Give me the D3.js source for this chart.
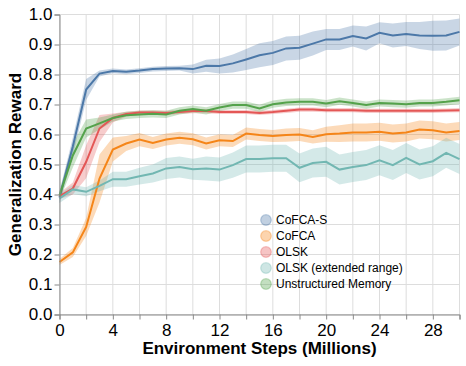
<!DOCTYPE html>
<html>
<head>
<meta charset="utf-8">
<script src="https://cdn.jsdelivr.net/npm/d3@7"></script>
<style>
  body { margin: 0; background: #fff; }
  text { font-family: "Liberation Sans", Arial, Helvetica, sans-serif; }
</style>
</head>
<body>
<script>
var width = 466, height = 366;
var margin = {left: 59.5, top: 14.5};
var plotW = 400, plotH = 300;

// data
var steps = [0,1,2,3,4,5,6,7,8,9,10,11,12,13,14,15,16,17,18,19,20,21,22,23,24,25,26,27,28,29,30];
var seriesNames = ["CoFCA-S", "CoFCA", "OLSK", "OLSK (extended range)", "Unstructured Memory"];
var seriesColors = ["#4c78a8", "#f58518", "#e45756", "#72b7b2", "#54a24b"];

var cofcaS = [0.39,0.56,0.75,0.803,0.812,0.809,0.813,0.818,0.82,0.821,0.818,0.829,0.828,0.837,0.85,0.864,0.872,0.887,0.889,0.903,0.917,0.917,0.928,0.92,0.939,0.93,0.935,0.93,0.929,0.93,0.942];
var cofcaSci = [0.02,0.03,0.035,0.01,0.008,0.008,0.008,0.008,0.008,0.008,0.015,0.02,0.025,0.03,0.035,0.04,0.04,0.04,0.04,0.04,0.035,0.035,0.035,0.04,0.035,0.04,0.04,0.045,0.05,0.05,0.045];

var cofca = [0.175,0.207,0.292,0.453,0.55,0.57,0.583,0.572,0.583,0.589,0.584,0.57,0.581,0.578,0.603,0.598,0.595,0.598,0.6,0.592,0.601,0.603,0.607,0.607,0.609,0.603,0.607,0.617,0.614,0.607,0.612];
var cofcaCi = [0.01,0.015,0.03,0.08,0.04,0.025,0.022,0.02,0.02,0.02,0.02,0.02,0.02,0.02,0.02,0.02,0.02,0.022,0.022,0.022,0.025,0.028,0.03,0.03,0.03,0.03,0.03,0.03,0.03,0.03,0.03];

var olsk = [0.395,0.42,0.509,0.62,0.655,0.668,0.673,0.673,0.672,0.675,0.678,0.678,0.675,0.675,0.675,0.672,0.675,0.679,0.683,0.683,0.681,0.681,0.681,0.679,0.679,0.679,0.679,0.679,0.679,0.68,0.681];
var olskCi = [0.01,0.02,0.055,0.045,0.015,0.008,0.007,0.007,0.007,0.007,0.007,0.007,0.007,0.007,0.007,0.007,0.007,0.007,0.007,0.007,0.007,0.007,0.007,0.007,0.007,0.007,0.007,0.007,0.007,0.007,0.007];

var olskExt = [0.387,0.417,0.409,0.429,0.451,0.451,0.461,0.47,0.487,0.492,0.484,0.487,0.483,0.498,0.518,0.518,0.521,0.521,0.489,0.505,0.509,0.483,0.492,0.498,0.514,0.498,0.522,0.5,0.511,0.539,0.518];
var olskExtCi = [0.015,0.015,0.015,0.018,0.025,0.025,0.028,0.03,0.035,0.035,0.035,0.04,0.04,0.042,0.045,0.045,0.045,0.045,0.048,0.048,0.05,0.05,0.05,0.05,0.05,0.05,0.05,0.05,0.05,0.05,0.05];

var unstructured = [0.397,0.53,0.62,0.637,0.655,0.664,0.667,0.669,0.667,0.679,0.685,0.679,0.69,0.698,0.698,0.687,0.701,0.707,0.709,0.709,0.703,0.711,0.705,0.698,0.705,0.703,0.701,0.705,0.705,0.709,0.714];
var unstructuredCi = [0.015,0.04,0.03,0.02,0.012,0.012,0.012,0.012,0.012,0.012,0.012,0.012,0.012,0.012,0.012,0.012,0.012,0.012,0.012,0.012,0.012,0.012,0.012,0.012,0.012,0.012,0.012,0.012,0.012,0.012,0.012];

var xTicks = [0,4,8,12,16,20,24,28];
var yTicks = [0,0.1,0.2,0.3,0.4,0.5,0.6,0.7,0.8,0.9,1.0];

var series = [
  {name: seriesNames[0], color: seriesColors[0], mean: cofcaS, ci: cofcaSci},
  {name: seriesNames[1], color: seriesColors[1], mean: cofca, ci: cofcaCi},
  {name: seriesNames[2], color: seriesColors[2], mean: olsk, ci: olskCi},
  {name: seriesNames[3], color: seriesColors[3], mean: olskExt, ci: olskExtCi},
  {name: seriesNames[4], color: seriesColors[4], mean: unstructured, ci: unstructuredCi}
];

var svg = d3.select("body").append("svg")
            .attr("width", width).attr("height", height);

var x = d3.scaleLinear().domain([0, 30]).range([0, plotW]);
var y = d3.scaleLinear().domain([0, 1]).range([plotH, 0]);

var g = svg.append("g").attr("transform", "translate(" + margin.left + "," + margin.top + ")");

// grid
var gridX = d3.range(0, 31, 2);
g.append("g").selectAll("line").data(gridX).enter().append("line")
  .attr("x1", function(d){ return x(d); }).attr("x2", function(d){ return x(d); })
  .attr("y1", 0).attr("y2", plotH)
  .attr("stroke", "#ddd");
g.append("g").selectAll("line").data(yTicks).enter().append("line")
  .attr("y1", function(d){ return y(d); }).attr("y2", function(d){ return y(d); })
  .attr("x1", 0).attr("x2", plotW)
  .attr("stroke", "#ddd");

var area = d3.area()
  .x(function(d){ return x(d.step); })
  .y0(function(d){ return y(d.lo); })
  .y1(function(d){ return y(d.hi); });
var line = d3.line()
  .x(function(d){ return x(d.step); })
  .y(function(d){ return y(d.v); });

function rows(s) {
  return steps.map(function(st, i){
    return {step: st, v: s.mean[i], lo: s.mean[i] - s.ci[i], hi: s.mean[i] + s.ci[i]};
  });
}

g.append("g").selectAll("path").data(series).enter().append("path")
  .attr("d", function(s){ return area(rows(s)); })
  .attr("fill", function(s){ return s.color; })
  .attr("fill-opacity", 0.3);

g.append("g").selectAll("path").data(series).enter().append("path")
  .attr("d", function(s){ return line(rows(s)); })
  .attr("fill", "none")
  .attr("stroke", function(s){ return s.color; })
  .attr("stroke-width", 2);

// axes
var xAxis = g.append("g").attr("transform", "translate(0," + plotH + ")")
  .call(d3.axisBottom(x).tickValues(gridX).tickSize(5)
    .tickFormat(function(d){ return xTicks.indexOf(d) >= 0 ? d : ""; }));
xAxis.select(".domain").attr("stroke", "#888");
xAxis.selectAll(".tick line").attr("stroke", "#888");
xAxis.selectAll("text").attr("y", 9).attr("font-size", 17).attr("fill", "#000")
  .style("font-family", "'Liberation Sans', Arial, sans-serif");

var yAxis = g.append("g")
  .call(d3.axisLeft(y).tickValues(yTicks).tickSize(5).tickFormat(d3.format(".1f")));
yAxis.select(".domain").attr("stroke", "#888");
yAxis.selectAll(".tick line").attr("stroke", "#888");
yAxis.selectAll("text").attr("x", -7).attr("font-size", 17).attr("fill", "#000")
  .style("font-family", "'Liberation Sans', Arial, sans-serif");

// titles
svg.append("text")
  .attr("x", margin.left + plotW / 2).attr("y", 354)
  .attr("text-anchor", "middle")
  .attr("font-size", 17).attr("font-weight", "bold")
  .text("Environment Steps (Millions)");

svg.append("text")
  .attr("transform", "translate(21," + (margin.top + plotH / 2) + ") rotate(-90)")
  .attr("text-anchor", "middle")
  .attr("font-size", 17).attr("font-weight", "bold")
  .text("Generalization Reward");

// legend
var legend = svg.append("g").attr("transform", "translate(266,220)")
  .selectAll(".legends").data(series).enter().append("g").classed("legends", true)
  .attr("transform", function(d, i){ return "translate(0," + i * 16 + ")"; });
legend.append("circle").attr("r", 5.3)
  .attr("fill", function(d){ return d.color; }).attr("fill-opacity", 0.35)
  .attr("stroke", function(d){ return d.color; }).attr("stroke-opacity", 0.35).attr("stroke-width", 1.2);
legend.append("text").attr("x", 10).attr("dy", "0.35em")
  .attr("font-size", 12).attr("fill", "#000")
  .text(function(d){ return d.name; });
</script>
</body>
</html>
